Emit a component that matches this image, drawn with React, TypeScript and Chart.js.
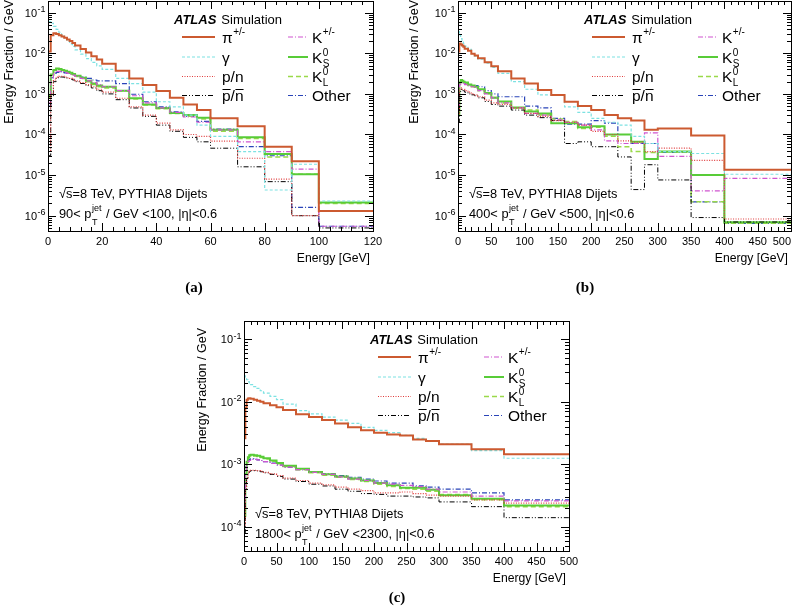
import React, { useEffect, useRef } from "react";
import { Chart, registerables } from "chart.js";
Chart.register(...registerables);

// ---------------- data ----------------
// bin edges (GeV)
const EDGES_A = [0, 1, 2, 3, 4, 5, 6, 7, 8, 9, 10, 12, 14, 16, 18, 20, 25, 30, 35, 40, 45, 50, 55, 60, 70, 80, 90, 100, 120];
const EDGES_B = [0, 2, 4, 6, 8, 10, 15, 20, 25, 30, 40, 50, 60, 80, 100, 120, 140, 160, 180, 200, 220, 240, 260, 280, 300, 350, 400, 500];
const EDGES_C = [0, 2, 4, 6, 8, 10, 15, 20, 25, 30, 40, 50, 60, 80, 100, 120, 140, 160, 180, 200, 220, 240, 260, 280, 300, 350, 400, 500];

// panel (a): 90 < pT < 100 GeV
const PI_A = [0.011, 0.028, 0.031, 0.03, 0.028, 0.026, 0.024, 0.022, 0.02, 0.018, 0.0155, 0.0128, 0.0105, 0.0085, 0.007, 0.0055, 0.0037, 0.0024, 0.00165, 0.00117, 0.0008, 0.00055, 0.0004, 0.00025, 0.00016, 0.00005, 0.000022, 0.0000013];
const GAMMA_A = [0.06, 0.055, 0.046, 0.039, 0.033, 0.028, 0.024, 0.02, 0.017, 0.0148, 0.0122, 0.0095, 0.0074, 0.006, 0.0049, 0.004, 0.0024, 0.0018, 0.0011, 0.00064, 0.00048, 0.0003, 0.00017, 0.00009, 0.000038, 0.0000043, 0.0000185, 0.0000023];
const PN_A = [0.00004, 0.001, 0.0022, 0.0026, 0.0027, 0.0027, 0.0026, 0.0025, 0.0024, 0.0023, 0.0021, 0.0019, 0.0017, 0.0015, 0.0013, 0.0011, 0.00078, 0.00048, 0.0003, 0.00019, 0.00013, 0.0001, 0.00009, 0.000069, 0.000026, 0.000008, 0.000001, 0.0000013];
const PNBAR_A = [0.00003, 0.0009, 0.002, 0.0025, 0.0026, 0.0026, 0.0025, 0.0024, 0.0023, 0.0022, 0.002, 0.0018, 0.0016, 0.0014, 0.0012, 0.001, 0.00072, 0.00045, 0.00028, 0.00017, 0.00012, 0.000085, 0.000066, 0.000046, 0.000016, 0.0000069, 0.000001, 0.0000005];
const KPM_A = [0.0006, 0.0025, 0.0034, 0.0036, 0.0036, 0.0035, 0.0034, 0.0032, 0.003, 0.0029, 0.0027, 0.0024, 0.0021, 0.0019, 0.0017, 0.0015, 0.0012, 0.0009, 0.0006, 0.00045, 0.00035, 0.00027, 0.0002, 0.00013, 0.000066, 0.000038, 0.000014, 0.00000055];
const K0S_A = [0.0009, 0.003, 0.0039, 0.0042, 0.0041, 0.0039, 0.0037, 0.0035, 0.0033, 0.0031, 0.0028, 0.0025, 0.0021, 0.0018, 0.0016, 0.0015, 0.0012, 0.00078, 0.00055, 0.00045, 0.00034, 0.0003, 0.00026, 0.00013, 0.000085, 0.000033, 0.0000105, 0.0000021];
const K0L_A = [0.0008, 0.0029, 0.0038, 0.0041, 0.004, 0.0038, 0.0036, 0.0034, 0.0032, 0.003, 0.0027, 0.0024, 0.002, 0.0017, 0.0015, 0.0014, 0.0012, 0.00075, 0.00053, 0.00043, 0.00033, 0.00028, 0.00024, 0.00012, 0.00008, 0.000028, 0.0000105, 0.000002];
const OTHER_A = [0.0005, 0.0025, 0.0032, 0.0034, 0.0035, 0.0034, 0.0033, 0.0032, 0.0031, 0.003, 0.0028, 0.0026, 0.0024, 0.0022, 0.0021, 0.0021, 0.0018, 0.00098, 0.00064, 0.00048, 0.00036, 0.00028, 0.00021, 0.000135, 0.00005, 0.00003, 0.0000016, 0.00000055];

// panel (b): 400 < pT < 500 GeV
const PI_B = [0.011, 0.0175, 0.0165, 0.0155, 0.0145, 0.013, 0.0115, 0.0098, 0.0088, 0.0075, 0.006, 0.0048, 0.0036, 0.0024, 0.0018, 0.00125, 0.00094, 0.00064, 0.0005, 0.0004, 0.0003, 0.00025, 0.00022, 0.00013, 0.00014, 0.000095, 0.0000135];
const GAMMA_B = [0.034, 0.028, 0.023, 0.02, 0.0175, 0.015, 0.0125, 0.0098, 0.0085, 0.0072, 0.0057, 0.0045, 0.0032, 0.002, 0.0013, 0.00095, 0.00094, 0.00048, 0.00035, 0.00025, 0.0002, 0.00017, 0.00009, 0.00006, 0.000038, 0.000034, 0.0000105];
const PN_B = [0.0003, 0.0013, 0.0014, 0.0013, 0.0013, 0.0012, 0.0011, 0.001, 0.00095, 0.00085, 0.0007, 0.0006, 0.00055, 0.00045, 0.00033, 0.00028, 0.00022, 0.0002, 0.00017, 0.00012, 0.0001, 0.00007, 0.000065, 0.000038, 0.000046, 0.000023, 0.00000083];
const PNBAR_B = [0.0002, 0.0011, 0.0013, 0.0012, 0.0012, 0.0011, 0.001, 0.00095, 0.0009, 0.0008, 0.00065, 0.00055, 0.0005, 0.0004, 0.0003, 0.00026, 0.00022, 0.00006, 0.000066, 0.00005, 0.00005, 0.000028, 0.0000044, 0.000018, 0.0000076, 0.0000009, 0.0000007];
const KPM_B = [0.0005, 0.0017, 0.0019, 0.0019, 0.0018, 0.0017, 0.0016, 0.0015, 0.0014, 0.0012, 0.001, 0.0008, 0.0006, 0.00045, 0.00033, 0.0003, 0.00023, 0.0002, 0.00017, 0.00013, 0.00007, 0.00006, 0.00006, 0.00011, 0.000029, 0.0000041, 0.0000083];
const K0S_B = [0.0003, 0.0019, 0.0022, 0.0021, 0.002, 0.0019, 0.0017, 0.0016, 0.0015, 0.0013, 0.00105, 0.0008, 0.00065, 0.00046, 0.00037, 0.00033, 0.00019, 0.00019, 0.00015, 0.00016, 0.0001, 0.0001, 0.000066, 0.000025, 0.000038, 0.00001, 0.00000069];
const K0L_B = [0.0004, 0.0018, 0.0021, 0.002, 0.0019, 0.0018, 0.0016, 0.0015, 0.0014, 0.0012, 0.001, 0.00082, 0.0006, 0.00045, 0.0004, 0.0003, 0.00024, 0.00021, 0.00014, 0.00015, 0.00009, 0.00005, 0.000038, 0.000036, 0.000037, 0.0000022, 0.00000065];
const OTHER_B = [0.0004, 0.0018, 0.002, 0.002, 0.0019, 0.0018, 0.0017, 0.0016, 0.0016, 0.0015, 0.0012, 0.001, 0.00085, 0.00085, 0.0005, 0.00045, 0.00025, 0.00018, 0.00018, 0.00022, 0.00019, 0.0001, 0.00006, 0.00006, 0.000036, 0.0000022, 0.00000065];

// panel (c): 1800 < pT < 2300 GeV
const PI_C = [0.0026, 0.008, 0.0108, 0.0113, 0.0114, 0.0112, 0.0108, 0.0104, 0.01, 0.0095, 0.0088, 0.0082, 0.0074, 0.0063, 0.0057, 0.0051, 0.0045, 0.0039, 0.0035, 0.0032, 0.003, 0.0029, 0.0025, 0.00235, 0.0021, 0.00174, 0.00145];
const GAMMA_C = [0.026, 0.024, 0.0225, 0.021, 0.02, 0.0188, 0.0175, 0.0164, 0.015, 0.0138, 0.0122, 0.0108, 0.0092, 0.0072, 0.0064, 0.0057, 0.0051, 0.0045, 0.0039, 0.0035, 0.0032, 0.0029, 0.0026, 0.0024, 0.0021, 0.00166, 0.00125];
const PN_C = [0.0001, 0.0004, 0.0006, 0.00072, 0.00078, 0.0008, 0.0008, 0.00079, 0.00077, 0.00074, 0.0007, 0.00066, 0.0006, 0.00055, 0.0005, 0.00047, 0.00043, 0.0004, 0.00038, 0.00035, 0.00035, 0.00036, 0.00034, 0.00032, 0.00031, 0.00027, 0.00024];
const PNBAR_C = [0.00008, 0.0004, 0.0006, 0.0007, 0.00077, 0.00079, 0.00079, 0.00078, 0.00076, 0.00073, 0.00069, 0.00064, 0.00058, 0.00053, 0.00048, 0.00045, 0.0004, 0.00037, 0.00034, 0.00033, 0.00031, 0.00031, 0.0003, 0.00029, 0.00025, 0.00021, 0.00014];
const KPM_C = [0.0002, 0.0008, 0.001, 0.0011, 0.00115, 0.0012, 0.0012, 0.00118, 0.00115, 0.0011, 0.00103, 0.00097, 0.0009, 0.00082, 0.00074, 0.00069, 0.00063, 0.00058, 0.00055, 0.0005, 0.00048, 0.00046, 0.00044, 0.0004, 0.00036, 0.00031, 0.00026];
const K0S_C = [0.00015, 0.0007, 0.0011, 0.0013, 0.0014, 0.00142, 0.0014, 0.00137, 0.00132, 0.00125, 0.00115, 0.00105, 0.00095, 0.00085, 0.00075, 0.00069, 0.00064, 0.00059, 0.00055, 0.0005, 0.00046, 0.00042, 0.00042, 0.00039, 0.00032, 0.00028, 0.00022];
const K0L_C = [0.00014, 0.00068, 0.00107, 0.00126, 0.00136, 0.00138, 0.00136, 0.00133, 0.00128, 0.00121, 0.00112, 0.00102, 0.00092, 0.00082, 0.00073, 0.00067, 0.00062, 0.00057, 0.00053, 0.00048, 0.00044, 0.00041, 0.0004, 0.00037, 0.00033, 0.00027, 0.00021];
const OTHER_C = [0.0003, 0.0009, 0.0011, 0.00115, 0.0012, 0.00122, 0.0012, 0.00118, 0.00115, 0.0011, 0.00104, 0.00098, 0.0009, 0.00082, 0.00076, 0.0007, 0.00066, 0.00062, 0.00058, 0.00054, 0.0005, 0.0005, 0.00045, 0.00043, 0.0004, 0.00035, 0.00027];

// tick labels
const X_TICKS_A = [0, 20, 40, 60, 80, 100, 120];
const X_TICKS_BC = [0, 50, 100, 150, 200, 250, 300, 350, 400, 450, 500];
const Y_DECADES_AB = [-6, -5, -4, -3, -2, -1];
const Y_DECADES_C = [-4, -3, -2, -1];

// ---------------- styles ----------------
const SERIES = [
  { key: "pi", color: "#cc5a30", width: 2, dash: [] as number[] },
  { key: "gamma", color: "#7de2e2", width: 1.2, dash: [3, 2] },
  { key: "pn", color: "#e03c3c", width: 1.2, dash: [1, 1.5] },
  { key: "pnbar", color: "#000000", width: 1, dash: [5, 2, 1, 2, 1, 2] },
  { key: "kpm", color: "#d055d0", width: 1.2, dash: [5, 2, 1, 2] },
  { key: "k0s", color: "#58cc38", width: 2, dash: [] as number[] },
  { key: "k0l", color: "#9ad94a", width: 1.5, dash: [5, 3] },
  { key: "other", color: "#2a44b8", width: 1.2, dash: [5, 2, 1, 2] },
];

const SANS = '"Liberation Sans", Arial, Helvetica, sans-serif';
const SERIF = '"Liberation Serif", "DejaVu Serif", serif';

const PANELS = [
  {
    key: "a", left: 0, top: 0, w: 396, h: 300,
    area: { l: 48, t: 1, r: 373, b: 231 },
    edges: EDGES_A,
    values: [PI_A, GAMMA_A, PN_A, PNBAR_A, KPM_A, K0S_A, K0L_A, OTHER_A],
    xMax: 120, xStep: 20, xMinor: 4, xTicks: X_TICKS_A, xLabelLimit: 396,
    yMin: 4.2e-7, yMax: 0.194, yDecades: Y_DECADES_AB,
    yTitleX: 9.5, yTitleTop: -1,
    caption: "(a)", capX: 194, capY: 292,
    ptLo: "90< ", ptHi: " / GeV <100, |η|<0.6",
  },
  {
    key: "b", left: 396, top: 0, w: 410, h: 300,
    area: { l: 62, t: 1, r: 395, b: 231 },
    edges: EDGES_B,
    values: [PI_B, GAMMA_B, PN_B, PNBAR_B, KPM_B, K0S_B, K0L_B, OTHER_B],
    xMax: 500, xStep: 50, xMinor: 10, xTicks: X_TICKS_BC, xLabelLimit: 396,
    yMin: 4.2e-7, yMax: 0.194, yDecades: Y_DECADES_AB,
    yTitleX: 18.5, yTitleTop: -1,
    caption: "(b)", capX: 189, capY: 292,
    ptLo: "400< ", ptHi: " / GeV <500, |η|<0.6",
  },
  {
    key: "c", left: 190, top: 300, w: 400, h: 311,
    area: { l: 54, t: 21, r: 379, b: 251 },
    edges: EDGES_C,
    values: [PI_C, GAMMA_C, PN_C, PNBAR_C, KPM_C, K0S_C, K0L_C, OTHER_C],
    xMax: 500, xStep: 50, xMinor: 10, xTicks: X_TICKS_BC, xLabelLimit: 400,
    yMin: 4.1e-5, yMax: 0.196, yDecades: Y_DECADES_C,
    yTitleX: 12.5, yTitleTop: 7,
    caption: "(c)", capX: 207, capY: 302,
    ptLo: "1800< ", ptHi: " / GeV <2300, |η|<0.6",
  },
];

const LEG_ROWS = [36, 56, 75.5, 94.5];

// ---------------- helpers ----------------
function f(size: number, style = "") {
  return `${style} ${size}px ${SANS}`.trim();
}
function txt(ctx: any, s: string, x: number, y: number, size: number, style = "") {
  ctx.font = f(size, style);
  ctx.fillText(s, x, y);
  return ctx.measureText(s).width;
}

function drawLabel(ctx: any, key: string, x: number, y: number) {
  const S = 15.5, s = 10;
  if (key === "pi") {
    const w = txt(ctx, "π", x, y, S);
    txt(ctx, "+/-", x + w + 0.5, y - 7.5, s);
  } else if (key === "gamma") {
    txt(ctx, "γ", x, y, S);
  } else if (key === "pn") {
    txt(ctx, "p/n", x, y, S);
  } else if (key === "pnbar") {
    txt(ctx, "p/n", x, y, S);
    ctx.font = f(S);
    const wp = ctx.measureText("p").width;
    const wps = ctx.measureText("p/").width;
    const wn = ctx.measureText("n").width;
    ctx.beginPath();
    ctx.lineWidth = 1.2;
    ctx.strokeStyle = "#000";
    ctx.moveTo(x + 0.5, y - 11.5); ctx.lineTo(x + wp, y - 11.5);
    ctx.moveTo(x + wps + 0.5, y - 11.5); ctx.lineTo(x + wps + wn, y - 11.5);
    ctx.stroke();
  } else if (key === "kpm") {
    const w = txt(ctx, "K", x, y, S);
    txt(ctx, "+/-", x + w + 0.5, y - 7.5, s);
  } else if (key === "k0s" || key === "k0l") {
    const w = txt(ctx, "K", x, y, S);
    txt(ctx, "0", x + w + 0.5, y - 7, s);
    txt(ctx, key === "k0s" ? "S" : "L", x + w + 0.5, y + 4, s);
  } else {
    txt(ctx, "Other", x, y, S);
  }
}

function makeDecor(p: any) {
  return {
    id: "decor_" + p.key,
    afterDraw(chart: any) {
      const ctx = chart.ctx;
      const ca = chart.chartArea;
      const xs = chart.scales.x, ys = chart.scales.y;
      const L = Math.round(ca.left), R = Math.round(ca.right), T = Math.round(ca.top), B = Math.round(ca.bottom);
      ctx.save();
      ctx.fillStyle = "#000";
      ctx.strokeStyle = "#000";
      ctx.lineWidth = 1;
      ctx.setLineDash([]);
      // frame
      ctx.strokeRect(L + 0.5, T + 0.5, R - L, B - T);
      // ticks
      ctx.beginPath();
      const nX = Math.round(p.xMax / p.xMinor);
      for (let k = 0; k <= nX; k++) {
        const v = k * p.xMinor;
        const x = Math.round(xs.getPixelForValue(v)) + 0.5;
        const len = v % p.xStep === 0 ? 8 : 4;
        ctx.moveTo(x, B); ctx.lineTo(x, B - len);
        ctx.moveTo(x, T); ctx.lineTo(x, T + len);
      }
      const e0 = Math.floor(Math.log10(p.yMin));
      const e1 = Math.ceil(Math.log10(p.yMax));
      for (let e = e0; e <= e1; e++) {
        for (let m = 1; m <= 9; m++) {
          const v = m * Math.pow(10, e);
          if (v < p.yMin || v > p.yMax) continue;
          const y = Math.round(ys.getPixelForValue(v)) + 0.5;
          const len = m === 1 ? 8 : 4;
          ctx.moveTo(L, y); ctx.lineTo(L + len, y);
          ctx.moveTo(R, y); ctx.lineTo(R - len, y);
        }
      }
      ctx.stroke();
      // x tick labels
      ctx.textAlign = "center";
      ctx.textBaseline = "alphabetic";
      ctx.font = f(11);
      for (const v of p.xTicks) {
        const s = String(v);
        const hw = ctx.measureText(s).width / 2;
        const x = Math.min(xs.getPixelForValue(v), p.xLabelLimit - 1 - hw);
        ctx.fillText(s, x, B + 13.5);
      }
      // y tick labels
      ctx.textAlign = "left";
      for (const e of p.yDecades) {
        const y = ys.getPixelForValue(Math.pow(10, e));
        const ex = "-" + Math.abs(e);
        ctx.font = f(9);
        const we = ctx.measureText(ex).width;
        ctx.font = f(11);
        const wb = ctx.measureText("10").width;
        const x0 = L - 3 - we - wb;
        txt(ctx, "10", x0, y + 4, 11);
        txt(ctx, ex, x0 + wb + 0.5, y - 0.5, 9);
      }
      // axis titles
      ctx.textAlign = "right";
      txt(ctx, "Energy [GeV]", R - 3, B + 31, 12.2);
      ctx.save();
      ctx.translate(p.yTitleX, T + p.yTitleTop);
      ctx.rotate(-Math.PI / 2);
      ctx.textAlign = "right";
      ctx.textBaseline = "middle";
      txt(ctx, "Energy Fraction / GeV", 0, 0, 12.5);
      ctx.restore();
      // ATLAS label
      ctx.textAlign = "left";
      ctx.textBaseline = "alphabetic";
      const wA = txt(ctx, "ATLAS", L + 126, T + 22.5, 13, "italic bold");
      txt(ctx, "Simulation", L + 126 + wA + 5, T + 22.5, 13);
      // legend
      SERIES.forEach((s, i) => {
        const col = i < 4 ? 0 : 1;
        const row = i % 4;
        const cy = T + LEG_ROWS[row];
        const x1 = col === 0 ? 134 : 240;
        const x2 = col === 0 ? 167 : 260;
        const tx = col === 0 ? 174 : 264;
        ctx.strokeStyle = s.color;
        ctx.lineWidth = s.width;
        ctx.setLineDash(s.dash);
        ctx.beginPath();
        ctx.moveTo(L + x1, cy);
        ctx.lineTo(L + x2, cy);
        ctx.stroke();
        ctx.setLineDash([]);
        ctx.fillStyle = "#000";
        drawLabel(ctx, s.key, L + tx, cy + 5.5);
      });
      // annotations
      ctx.strokeStyle = "#000";
      ctx.lineWidth = 1;
      const ax = L + 11;
      let yb = B - 33;
      const S = 12.8;
      const wr = txt(ctx, "√", ax, yb, S);
      const ws = txt(ctx, "s", ax + wr, yb, S);
      ctx.beginPath();
      ctx.moveTo(ax + wr - 0.5, yb - 10.5);
      ctx.lineTo(ax + wr + ws + 0.5, yb - 10.5);
      ctx.stroke();
      txt(ctx, "=8 TeV, PYTHIA8 Dijets", ax + wr + ws, yb, S);
      yb = B - 13;
      let x = ax;
      x += txt(ctx, p.ptLo, x, yb, S);
      x += txt(ctx, "p", x, yb, S);
      const wj = txt(ctx, "jet", x + 0.5, yb - 7.5, 9);
      const wT = txt(ctx, "T", x + 0.5, yb + 6.5, 9);
      x += Math.max(wj, wT) + 1.5;
      txt(ctx, p.ptHi, x, yb, S);
      // caption
      ctx.textAlign = "center";
      ctx.font = `bold 15px ${SERIF}`;
      ctx.fillText(p.caption, p.capX, p.capY);
      ctx.restore();
    },
  };
}

function steps(edges: number[], vals: number[]) {
  return edges.map((x, i) => ({ x, y: vals[Math.min(i, vals.length - 1)] }));
}

function PanelChart({ p }: { p: any }) {
  const ref = useRef<HTMLCanvasElement>(null);
  useEffect(() => {
    const cv = ref.current;
    if (!cv) return;
    const chart = new Chart(cv, {
      type: "line",
      data: {
        datasets: SERIES.map((s, i) => ({
          label: s.key,
          data: steps(p.edges, p.values[i]),
          borderColor: s.color,
          borderWidth: s.width,
          borderDash: s.dash,
          pointRadius: 0,
          fill: false,
          stepped: "before",
          tension: 0,
        })),
      },
      options: {
        responsive: false,
        animation: false,
        devicePixelRatio: 1,
        events: [],
        layout: { padding: { left: 0, top: p.area.t, right: p.w - p.area.r, bottom: 0 } },
        plugins: { legend: { display: false }, tooltip: { enabled: false } },
        scales: {
          x: {
            type: "linear",
            min: 0,
            max: p.xMax,
            ticks: { display: false, stepSize: p.xStep },
            grid: { display: false, drawTicks: false },
            border: { display: false },
            afterFit: (sc: any) => { sc.height = p.h - p.area.b; },
          },
          y: {
            type: "logarithmic",
            min: p.yMin,
            max: p.yMax,
            ticks: { display: false },
            grid: { display: false, drawTicks: false },
            border: { display: false },
            afterFit: (sc: any) => { sc.width = p.area.l; },
          },
        },
      } as any,
      plugins: [makeDecor(p)],
    } as any);
    return () => chart.destroy();
  }, []);
  return (
    <canvas
      ref={ref}
      width={p.w}
      height={p.h}
      style={{ position: "absolute", left: p.left, top: p.top, width: p.w, height: p.h }}
    />
  );
}

export default function App() {
  return (
    <div style={{ position: "absolute", left: 0, top: 0, width: 793, height: 611, overflow: "hidden", background: "#fff" }}>
      {PANELS.map((p) => (
        <PanelChart key={p.key} p={p} />
      ))}
    </div>
  );
}
